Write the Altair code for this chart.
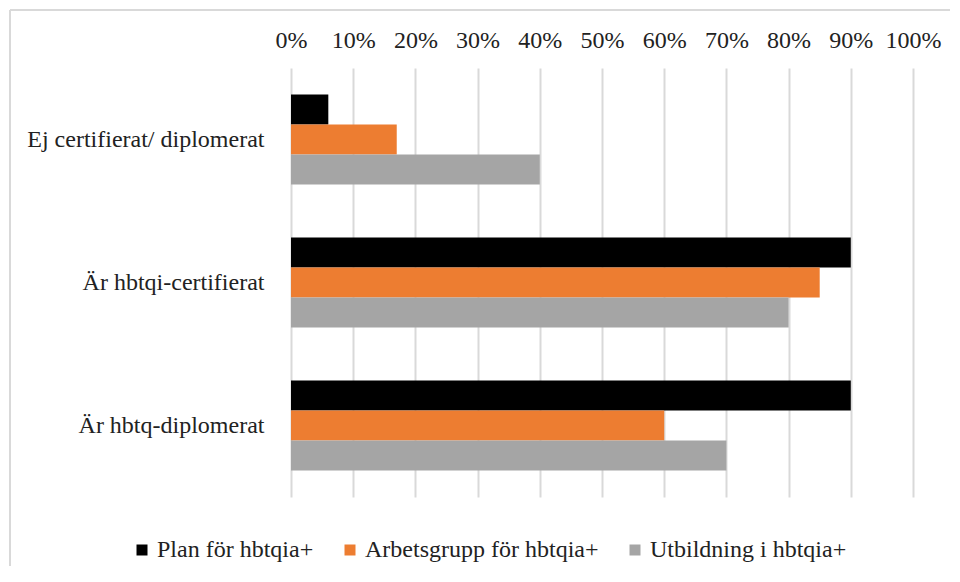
import altair as alt
import pandas as pd

categories = ["Ej certifierat/ diplomerat", "Är hbtqi-certifierat", "Är hbtq-diplomerat"]
series = ["Plan för hbtqia+", "Arbetsgrupp för hbtqia+", "Utbildning i hbtqia+"]
colors = ["#000000", "#ED7D31", "#A5A5A5"]
plan = [0.06, 0.90, 0.90]
arbetsgrupp = [0.17, 0.85, 0.60]
utbildning = [0.40, 0.80, 0.70]
ticks = [0, 0.1, 0.2, 0.3, 0.4, 0.5, 0.6, 0.7, 0.8, 0.9, 1.0]

rows = []
for s, vals in zip(series, [plan, arbetsgrupp, utbildning]):
    for c, v in zip(categories, vals):
        rows.append({"kategori": c, "serie": s, "andel": v})
df = pd.DataFrame(rows)

FONT = "Liberation Serif"
FS = 24

bars = alt.Chart(df).mark_bar().encode(
    y=alt.Y("kategori:N", sort=categories,
            scale=alt.Scale(paddingInner=0.37, paddingOuter=0.185),
            axis=alt.Axis(title=None, ticks=False, domain=False, labelPadding=27,
                          labelFontSize=FS, labelFont=FONT, labelColor="#222222",
                          labelLimit=400)),
    yOffset=alt.YOffset("serie:N", sort=series),
    x=alt.X("andel:Q", scale=alt.Scale(domain=[0, 1]),
            axis=alt.Axis(orient="top", format=".0%", values=ticks, title=None,
                          ticks=False, domain=False, labelPadding=16,
                          labelOverlap=False, labelFlush=False,
                          labelFontSize=FS, labelFont=FONT, labelColor="#222222",
                          grid=True, gridColor="#D9D9D9", gridWidth=2)),
    color=alt.Color("serie:N", sort=series,
                    scale=alt.Scale(domain=series, range=colors),
                    legend=alt.Legend(title=None, orient="none", direction="horizontal",
                                      legendX=-161, legendY=470, symbolType="square",
                                      symbolSize=121, symbolStrokeWidth=0,
                                      labelFontSize=FS, labelFont=FONT,
                                      labelColor="#222222", labelOffset=3,
                                      columnPadding=24, padding=0, labelLimit=400)),
)

frame = pd.DataFrame({"k": [0]})
top_line = alt.Chart(frame).mark_rule(color="#D9D9D9", strokeWidth=2).encode(
    x=alt.value(-281), x2=alt.value(659), y=alt.value(-58))
left_line = alt.Chart(frame).mark_rule(color="#D9D9D9", strokeWidth=2).encode(
    x=alt.value(-281), y=alt.value(-58), y2=alt.value(498))

chart = alt.layer(top_line, left_line, bars).properties(
    width=622, height=429,
    padding={"left": 1, "top": 1, "right": 0, "bottom": 0},
).configure_view(stroke=None)

chart.save("out.html", embed_options={"renderer": "svg", "actions": False})
